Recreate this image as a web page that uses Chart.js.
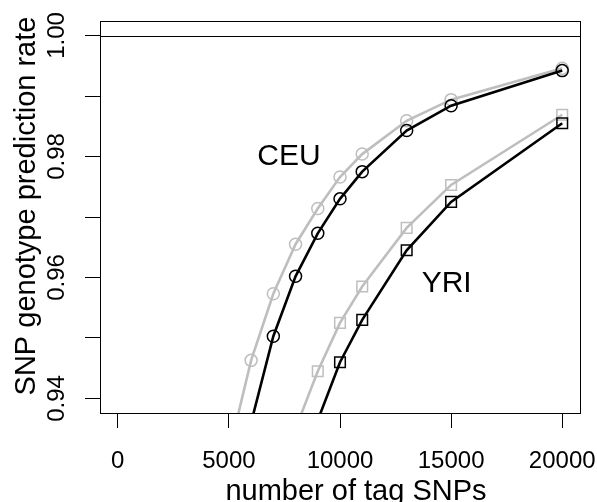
<!DOCTYPE html>
<html>
<head>
<meta charset="utf-8">
<script src="https://cdn.jsdelivr.net/npm/chart.js@4"></script>
<style>
  body { margin: 0; background: #fff; }
  canvas { display: block; }
</style>
</head>
<body>
<canvas id="myChart" width="597" height="502"></canvas>
<script>
// ---------------- DATA ----------------
const ceuGreyX = [5000, 6000, 7000, 8000, 9000, 10000, 11000, 13000, 15000, 20000];
const ceuGreyY = [0.931, 0.9463, 0.9573, 0.9655, 0.9714, 0.9766, 0.9804, 0.9859, 0.9894, 0.9946];
const ceuBlackX = [6000, 7000, 8000, 9000, 10000, 11000, 13000, 15000, 20000];
const ceuBlackY = [0.936, 0.9503, 0.9602, 0.9673, 0.9730, 0.9775, 0.9843, 0.9884, 0.9942];
const yriGreyX = [8000, 9000, 10000, 11000, 13000, 15000, 20000];
const yriGreyY = [0.935, 0.9445, 0.9525, 0.9585, 0.9682, 0.9753, 0.9869];
const yriBlackX = [9000, 10000, 11000, 13000, 15000, 20000];
const yriBlackY = [0.9364, 0.9460, 0.9530, 0.9645, 0.9725, 0.9855];

const xTicks = [0, 5000, 10000, 15000, 20000];
const yTicks = [0.94, 0.95, 0.96, 0.97, 0.98, 0.99, 1.00];
const yTickLabels = [0.94, 0.96, 0.98, 1.00];

const GREY = "#bebebe";
const FONT = "'Liberation Sans', Arial, Helvetica, sans-serif";

function pts(xs, ys) {
    return xs.map((x, i) => ({ x: x, y: ys[i] }));
}

// ---------------- R-STYLE DECORATIONS ----------------
const rStyle = {
    id: "rStyle",
    afterDraw(chart) {
        const ctx = chart.ctx;
        const a = chart.chartArea;
        const xs = chart.scales.x;
        const ys = chart.scales.y;
        ctx.save();

        // box
        ctx.strokeStyle = "#000";
        ctx.lineWidth = 1;
        ctx.strokeRect(Math.round(a.left) + 0.5, Math.round(a.top) + 0.5,
            Math.round(a.right - a.left), Math.round(a.bottom - a.top));

        // abline at 1.00
        const y1 = Math.round(ys.getPixelForValue(1.0)) + 0.5;
        ctx.beginPath();
        ctx.moveTo(a.left, y1);
        ctx.lineTo(a.right, y1);
        ctx.stroke();

        ctx.fillStyle = "#000";

        // x tick labels
        ctx.font = "24px " + FONT;
        ctx.textAlign = "center";
        ctx.textBaseline = "alphabetic";
        xTicks.forEach(v => {
            ctx.fillText(String(v), xs.getPixelForValue(v), 468);
        });

        // y tick labels (rotated, R style)
        yTickLabels.forEach(v => {
            ctx.save();
            ctx.translate(64, ys.getPixelForValue(v));
            ctx.rotate(-Math.PI / 2);
            ctx.fillText(v.toFixed(2), 0, 0);
            ctx.restore();
        });

        // axis titles
        ctx.font = "29px " + FONT;
        ctx.fillText("number of tag SNPs", 356, 500);
        ctx.save();
        ctx.translate(35, 206);
        ctx.rotate(-Math.PI / 2);
        ctx.fillText("SNP genotype prediction rate", 0, 0);
        ctx.restore();

        // population labels
        ctx.font = "30px " + FONT;
        ctx.textBaseline = "middle";
        ctx.fillText("CEU", xs.getPixelForValue(7700), ys.getPixelForValue(0.980));
        ctx.fillText("YRI", xs.getPixelForValue(14800), ys.getPixelForValue(0.959));

        ctx.restore();
    }
};

// ---------------- CHART ----------------
const ctx = document.getElementById("myChart").getContext("2d");

const chart = new Chart(ctx, {
    type: "line",
    data: {
        datasets: [
            {
                label: "CEU grey",
                data: pts(ceuGreyX, ceuGreyY),
                borderColor: GREY,
                borderWidth: 2.6,
                pointStyle: "circle",
                pointRadius: 6,
                pointBorderColor: GREY,
                pointBorderWidth: 1.5,
                pointBackgroundColor: "rgba(0,0,0,0)",
                order: 2
            },
            {
                label: "YRI grey",
                data: pts(yriGreyX, yriGreyY),
                borderColor: GREY,
                borderWidth: 2.6,
                pointStyle: "rect",
                pointRadius: 7.5,
                pointBorderColor: GREY,
                pointBorderWidth: 1.5,
                pointBackgroundColor: "rgba(0,0,0,0)",
                order: 2
            },
            {
                label: "CEU black",
                data: pts(ceuBlackX, ceuBlackY),
                borderColor: "#000",
                borderWidth: 2.6,
                pointStyle: "circle",
                pointRadius: 6,
                pointBorderColor: "#000",
                pointBorderWidth: 1.5,
                pointBackgroundColor: "rgba(0,0,0,0)",
                order: 1
            },
            {
                label: "YRI black",
                data: pts(yriBlackX, yriBlackY),
                borderColor: "#000",
                borderWidth: 2.6,
                pointStyle: "rect",
                pointRadius: 7.5,
                pointBorderColor: "#000",
                pointBorderWidth: 1.5,
                pointBackgroundColor: "rgba(0,0,0,0)",
                order: 1
            }
        ]
    },
    options: {
        responsive: false,
        animation: false,
        devicePixelRatio: 1,
        layout: { padding: { top: 21, right: 17, left: 0, bottom: 0 } },
        elements: { line: { tension: 0 } },
        plugins: {
            legend: { display: false },
            tooltip: { enabled: false }
        },
        scales: {
            x: {
                type: "linear",
                min: -800,
                max: 20800,
                afterBuildTicks: s => { s.ticks = xTicks.map(v => ({ value: v })); },
                afterFit: s => { s.height = 89; },
                ticks: { color: "rgba(0,0,0,0)" },
                grid: {
                    drawOnChartArea: false,
                    drawTicks: true,
                    tickLength: 15,
                    color: "#000",
                    lineWidth: 1
                },
                border: { display: true, color: "#000", width: 1 }
            },
            y: {
                type: "linear",
                min: 0.9376,
                max: 1.0024,
                afterBuildTicks: s => { s.ticks = yTicks.map(v => ({ value: v })); },
                afterFit: s => { s.width = 100; },
                ticks: { color: "rgba(0,0,0,0)" },
                grid: {
                    drawOnChartArea: false,
                    drawTicks: true,
                    tickLength: 15,
                    color: "#000",
                    lineWidth: 1
                },
                border: { display: true, color: "#000", width: 1 }
            }
        }
    },
    plugins: [rStyle]
});
</script>
</body>
</html>
